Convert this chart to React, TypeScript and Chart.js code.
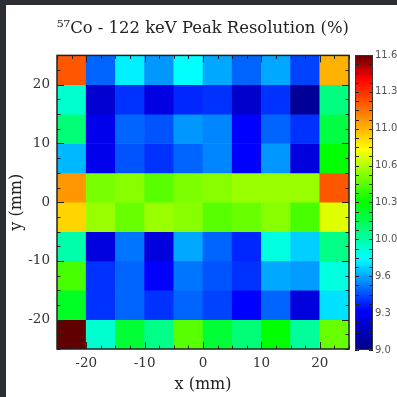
import React, { useEffect, useRef } from 'react';
import { Chart, registerables } from 'chart.js';

Chart.register(...registerables);

const TITLE = '⁵⁷Co - 122 keV Peak Resolution (%)';
const X_TITLE = 'x (mm)';
const Y_TITLE = 'y (mm)';

const xCenters = [-22.5, -17.5, -12.5, -7.5, -2.5, 2.5, 7.5, 12.5, 17.5, 22.5];
const yCenters = [22.5, 17.5, 12.5, 7.5, 2.5, -2.5, -7.5, -12.5, -17.5, -22.5];
const cellSize = 5;
const axisMin = -25;
const axisMax = 25;
const majorTicks = [-20, -10, 0, 10, 20];

// resolution (%) per row, top (y = 22.5) to bottom (y = -22.5), columns x = -22.5 .. 22.5
const rowY225 = [11.18, 9.53, 9.78, 9.62, 9.81, 9.65, 9.53, 9.65, 9.47, 10.96];
const rowY175 = [9.90, 9.22, 9.44, 9.27, 9.42, 9.44, 9.21, 9.44, 9.07, 10.05];
const rowY125 = [10.07, 9.30, 9.53, 9.50, 9.62, 9.59, 9.35, 9.53, 9.44, 10.17];
const rowY075 = [9.68, 9.30, 9.50, 9.44, 9.53, 9.59, 9.35, 9.62, 9.26, 10.30];
const rowY025 = [11.02, 10.52, 10.55, 10.46, 10.53, 10.55, 10.58, 10.58, 10.58, 11.18];
const rowYm025 = [10.87, 10.58, 10.49, 10.58, 10.55, 10.46, 10.49, 10.55, 10.43, 10.71];
const rowYm075 = [9.97, 9.26, 9.56, 9.26, 9.65, 9.53, 9.42, 9.87, 9.72, 10.04];
const rowYm125 = [10.43, 9.44, 9.53, 9.35, 9.56, 9.50, 9.44, 9.65, 9.63, 9.87];
const rowYm175 = [10.23, 9.44, 9.53, 9.44, 9.53, 9.47, 9.35, 9.53, 9.26, 9.75];
const rowYm225 = [11.60, 9.90, 10.20, 10.04, 10.46, 10.20, 10.07, 10.30, 10.00, 10.49];
const gridRows = [rowY225, rowY175, rowY125, rowY075, rowY025, rowYm025, rowYm075, rowYm125, rowYm175, rowYm225];

const cbMin = 9.0;
const cbMax = 11.6;
const cbLabels = ['9.0', '9.3', '9.6', '10.0', '10.3', '10.6', '11.0', '11.3', '11.6'];
const cbMinorDivisions = 32;

const cmapStops: [number, string][] = [
  [0.0, '#000080'],
  [0.135, '#0000ff'],
  [0.31, '#00ffff'],
  [0.5, '#00ff00'],
  [0.68, '#ffff00'],
  [0.92, '#ff0000'],
  [1.0, '#600000'],
];

function hexToRgb(h: string) {
  return [parseInt(h.slice(1, 3), 16), parseInt(h.slice(3, 5), 16), parseInt(h.slice(5, 7), 16)];
}

function colorFor(v: number) {
  let t = (v - cbMin) / (cbMax - cbMin);
  t = Math.max(0, Math.min(1, t));
  for (let i = 0; i < cmapStops.length - 1; i++) {
    const [t0, c0] = cmapStops[i];
    const [t1, c1] = cmapStops[i + 1];
    if (t >= t0 && t <= t1) {
      const f = (t - t0) / (t1 - t0);
      const a = hexToRgb(c0);
      const b = hexToRgb(c1);
      const r = Math.round(a[0] + (b[0] - a[0]) * f);
      const g = Math.round(a[1] + (b[1] - a[1]) * f);
      const bl = Math.round(a[2] + (b[2] - a[2]) * f);
      return `rgb(${r},${g},${bl})`;
    }
  }
  return cmapStops[cmapStops.length - 1][1];
}

const frameTicksPlugin = {
  id: 'frameTicks',
  afterDatasetsDraw(chart: any) {
    const { ctx, chartArea: a, scales } = chart;
    const x = scales.x;
    const y = scales.y;
    ctx.save();
    ctx.strokeStyle = '#222';
    ctx.lineWidth = 1;
    const line = (x1: number, y1: number, x2: number, y2: number) => {
      ctx.beginPath();
      ctx.moveTo(x1, y1);
      ctx.lineTo(x2, y2);
      ctx.stroke();
    };
    for (let v = axisMin; v <= axisMax + 0.001; v += 2.5) {
      const len = Math.abs(v % 10) < 0.001 ? 7 : 3.5;
      const px = Math.round(x.getPixelForValue(v)) + 0.5;
      line(px, a.bottom, px, a.bottom - len);
      line(px, a.top, px, a.top + len);
      const py = Math.round(y.getPixelForValue(v)) + 0.5;
      line(a.left, py, a.left + len, py);
      line(a.right, py, a.right - len, py);
    }
    ctx.lineWidth = 1.5;
    ctx.strokeRect(a.left, a.top, a.right - a.left, a.bottom - a.top);
    ctx.restore();
  },
};

const colorbarPlugin = {
  id: 'colorbarFrame',
  afterDatasetsDraw(chart: any) {
    const { ctx, chartArea: a, scales } = chart;
    const y = scales.y;
    ctx.save();
    ctx.strokeStyle = '#222';
    ctx.lineWidth = 1;
    for (let i = 0; i <= cbMinorDivisions; i++) {
      const v = cbMin + (i * (cbMax - cbMin)) / cbMinorDivisions;
      const py = Math.round(y.getPixelForValue(v)) + 0.5;
      ctx.beginPath();
      ctx.moveTo(a.left, py);
      ctx.lineTo(a.left + 4, py);
      ctx.moveTo(a.right, py);
      ctx.lineTo(a.right - 4, py);
      ctx.stroke();
    }
    ctx.strokeStyle = '#333';
    ctx.strokeRect(a.left + 0.5, a.top + 0.5, a.right - a.left - 1, a.bottom - a.top - 1);
    ctx.restore();
  },
};

export default function App() {
  const mainRef = useRef<HTMLCanvasElement>(null);
  const cbRef = useRef<HTMLCanvasElement>(null);

  useEffect(() => {
    document.body.style.margin = '0';
    const serif = 'DejaVu Serif';
    const datasets = gridRows.map((vals, r) => ({
      data: xCenters.map((x) => ({ x, y: [yCenters[r] - cellSize / 2, yCenters[r] + cellSize / 2] })),
      backgroundColor: vals.map(colorFor),
      borderWidth: 0,
      barPercentage: 1,
      categoryPercentage: 1,
      grouped: false,
    }));

    const main = new Chart(mainRef.current as HTMLCanvasElement, {
      type: 'bar',
      data: { datasets: datasets as any },
      options: {
        animation: false,
        responsive: false,
        maintainAspectRatio: false,
        layout: { padding: { left: 0, right: 48, top: 0, bottom: 0 } },
        plugins: {
          legend: { display: false },
          tooltip: { enabled: false },
          title: {
            display: true,
            text: TITLE,
            fullSize: false,
            color: '#222',
            font: { family: serif, size: 17, weight: 'normal' },
            padding: { top: 18, bottom: 17 },
          },
        },
        scales: {
          x: {
            type: 'linear',
            min: axisMin,
            max: axisMax,
            offset: false,
            grid: { display: false, drawTicks: false },
            border: { display: false },
            afterBuildTicks: (s: any) => {
              s.ticks = majorTicks.map((v) => ({ value: v }));
            },
            afterFit: (s: any) => {
              s.height = 48;
            },
            ticks: {
              autoSkip: false,
              maxRotation: 0,
              padding: 6,
              color: '#333',
              font: { family: serif, size: 13.5 },
              callback: (v: any) => String(v),
            },
            title: {
              display: true,
              text: X_TITLE,
              color: '#222',
              font: { family: serif, size: 16 },
              padding: { top: 0, bottom: 3 },
            },
          },
          y: {
            type: 'linear',
            position: 'left',
            min: axisMin,
            max: axisMax,
            grid: { display: false, drawTicks: false },
            border: { display: false },
            afterBuildTicks: (s: any) => {
              s.ticks = majorTicks.map((v) => ({ value: v }));
            },
            afterFit: (s: any) => {
              s.width = 57;
            },
            ticks: {
              autoSkip: false,
              padding: 7,
              color: '#333',
              font: { family: serif, size: 13.5 },
              callback: (v: any) => String(v),
            },
            title: {
              display: true,
              text: Y_TITLE,
              color: '#222',
              font: { family: serif, size: 16 },
              padding: { top: 7, bottom: 0 },
            },
          },
        },
      } as any,
      plugins: [frameTicksPlugin],
    });

    const cb = new Chart(cbRef.current as HTMLCanvasElement, {
      type: 'bar',
      data: {
        labels: [''],
        datasets: [
          {
            data: [[cbMin, cbMax]] as any,
            borderWidth: 0,
            barPercentage: 1,
            categoryPercentage: 1,
            backgroundColor: (c: any) => {
              const chart = c.chart;
              if (!chart.chartArea) return 'transparent';
              const ys = chart.scales.y;
              const g = chart.ctx.createLinearGradient(0, ys.getPixelForValue(cbMin), 0, ys.getPixelForValue(cbMax));
              cmapStops.forEach(([t, col]) => g.addColorStop(t, col));
              return g;
            },
          },
        ],
      },
      options: {
        animation: false,
        responsive: false,
        maintainAspectRatio: false,
        layout: { padding: { left: 355, right: 0, top: 55, bottom: 47 } },
        plugins: { legend: { display: false }, tooltip: { enabled: false }, title: { display: false } },
        scales: {
          x: { display: false },
          y: {
            position: 'right',
            min: cbMin,
            max: cbMax,
            grid: { display: false, drawTicks: false },
            border: { display: false },
            afterBuildTicks: (s: any) => {
              s.ticks = cbLabels.map((_, i) => ({ value: cbMin + (i * (cbMax - cbMin)) / (cbLabels.length - 1) }));
            },
            afterFit: (s: any) => {
              s.width = 24;
            },
            ticks: {
              autoSkip: false,
              padding: 2,
              color: '#555',
              font: { family: 'DejaVu Sans', size: 10 },
              callback: (_v: any, i: number) => cbLabels[i],
            },
          },
        },
      } as any,
      plugins: [colorbarPlugin],
    });

    return () => {
      main.destroy();
      cb.destroy();
    };
  }, []);

  return (
    <div style={{ position: 'fixed', left: 0, top: 0, width: 397, height: 397, background: '#2b2f33', overflow: 'hidden' }}>
      <div style={{ position: 'absolute', left: 6, top: 5, right: 0, bottom: 0, background: '#ffffff' }} />
      <canvas ref={mainRef} width={397} height={397} style={{ position: 'absolute', left: 0, top: 0 }} />
      <canvas ref={cbRef} width={397} height={397} style={{ position: 'absolute', left: 0, top: 0 }} />
    </div>
  );
}
